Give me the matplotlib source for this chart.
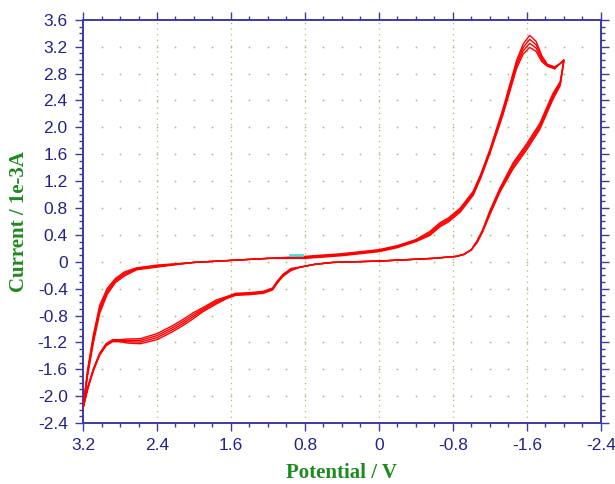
"""Voltamograma cíclico (CV) – recriação do gráfico em matplotlib."""

import matplotlib

matplotlib.use("Agg")
import matplotlib.pyplot as plt  # noqa: E402
import numpy as np  # noqa: E402
from matplotlib.ticker import MultipleLocator  # noqa: E402

# --- dados (potencial em V, corrente em mA) ---
# ramo de ida: do vértice em 3.2 V até o vértice em -2.0 V
fwd_potential = [3.20, 3.15, 3.09, 3.02, 2.94, 2.85, 2.75, 2.62, 2.40, 2.00,
                 1.60, 1.20, 0.80, 0.40, 0.00, -0.20, -0.40, -0.55, -0.66,
                 -0.75, -0.88, -1.02, -1.10, -1.20, -1.34, -1.49, -1.56,
                 -1.63, -1.70, -1.76, -1.82, -1.90, -1.96, -2.00]
fwd_current = [-2.18, -1.60, -1.10, -0.65, -0.40, -0.25, -0.15, -0.09, -0.05,
               -0.01, 0.02, 0.05, 0.08, 0.12, 0.18, 0.24, 0.33, 0.45, 0.58,
               0.65, 0.80, 1.05, 1.30, 1.67, 2.27, 3.00, 3.24, 3.37, 3.28,
               3.07, 2.94, 2.90, 2.95, 3.00]
fwd_spread = [0.00, 0.03, 0.04, 0.04, 0.03, 0.02, 0.02, 0.01, 0.01, 0.00,
              0.00, 0.00, 0.01, 0.01, 0.01, 0.01, 0.01, 0.02, 0.02, 0.02,
              0.02, 0.02, 0.02, 0.02, 0.03, 0.04, 0.05, 0.06, 0.05, 0.03,
              0.01, 0.01, 0.00, 0.00]

# ramo de volta: do vértice em -2.0 V de volta para 3.2 V
rev_potential = [-2.00, -1.98, -1.96, -1.88, -1.74, -1.60, -1.45, -1.31, -1.20,
                 -1.12, -1.06, -1.00, -0.92, -0.84, -0.58, 0.00, 0.50, 0.70,
                 0.85, 0.95, 1.04, 1.10, 1.15, 1.25, 1.40, 1.55, 1.65, 1.76,
                 1.90, 2.01, 2.12, 2.23, 2.40, 2.58, 2.72, 2.80, 2.88, 2.95,
                 3.02, 3.09, 3.15, 3.20]
rev_current = [3.00, 2.80, 2.62, 2.41, 1.97, 1.67, 1.38, 1.04, 0.70, 0.44,
               0.28, 0.18, 0.11, 0.08, 0.05, 0.01, -0.01, -0.04, -0.08, -0.13,
               -0.22, -0.32, -0.42, -0.47, -0.49, -0.50, -0.55, -0.63, -0.74,
               -0.85, -0.95, -1.04, -1.16, -1.22, -1.21, -1.19, -1.19, -1.25,
               -1.39, -1.63, -1.90, -2.18]
rev_spread = [0.00, 0.01, 0.02, 0.03, 0.03, 0.03, 0.03, 0.02, 0.02, 0.01,
              0.01, 0.00, 0.00, 0.00, 0.00, 0.00, 0.00, 0.00, 0.00, 0.01,
              0.01, 0.01, 0.01, 0.01, 0.01, 0.01, 0.01, 0.02, 0.02, 0.03,
              0.03, 0.03, 0.03, 0.025, 0.02, 0.01, 0.01, 0.01, 0.01, 0.01,
              0.01, 0.00]

cycles = [0, 1, 2, 3]  # 4 varreduras sobrepostas

# marcador de início da varredura (trecho ciano)
start_potential = [0.96, 0.83]
start_current = [0.10, 0.10]

_AZUL = "#3a3aa8"
_AZUL_TXT = "#23238a"
_VERDE = "#1f8a1f"
_GRADE = "#a2c463"

fig = plt.figure(figsize=(6.15, 4.84), dpi=100)
ax = fig.add_axes((0.135, 0.126, 0.842, 0.833))

# grade: linhas pontilhadas verticais nos ticks maiores + pontos nas interseções
for xv in np.arange(2.4, -2.0, -0.8):
    ax.axvline(xv, color=_GRADE, lw=0.9, ls=(0, (1, 3.5)), zorder=0)
gx, gy = np.meshgrid(np.arange(3.0, -2.35, -0.2), np.arange(3.2, -2.35, -0.4))
ax.scatter(gx.ravel(), gy.ravel(), s=1.6, color=_GRADE, lw=0, zorder=0)

# as 4 varreduras (ida + volta em um só traço)
fp, fc, fs = map(np.asarray, (fwd_potential, fwd_current, fwd_spread))
rp, rc, rs = map(np.asarray, (rev_potential, rev_current, rev_spread))
for k in cycles:
    x = np.concatenate([fp, rp[1:]])
    y = np.concatenate([fc - k * fs, (rc + k * rs)[1:]])
    ax.plot(x, y, color="red", lw=1.0, zorder=3)
ax.plot(start_potential, start_current, color="#40e0e0", lw=2.0, zorder=4)

ax.set_xlim(3.2, -2.4)
ax.set_ylim(-2.4, 3.6)
ax.xaxis.set_minor_locator(MultipleLocator(0.2))
ax.yaxis.set_minor_locator(MultipleLocator(0.1))
xt = np.arange(3.2, -2.41, -0.8)
yt = np.arange(-2.4, 3.61, 0.4)
ax.set_xticks(xt)
ax.set_xticklabels([f"{v:.1f}" if abs(v) > 1e-9 else "0" for v in xt])
ax.set_yticks(yt)
ax.set_yticklabels([f"{v:.1f}" if abs(v) > 1e-9 else "0" for v in yt])

for s in ax.spines.values():
    s.set_color(_AZUL)
    s.set_linewidth(1.4)
ax.tick_params(which="both", direction="out", color=_AZUL, top=True, right=True,
               labelcolor=_AZUL_TXT, labelsize=12.5, width=1.0)
ax.tick_params(which="major", length=6, pad=5)
ax.tick_params(which="minor", length=3)
for lab in ax.get_xticklabels() + ax.get_yticklabels():
    lab.set_family(["Liberation Sans", "DejaVu Sans"])

fonte_rot = dict(family=["Liberation Serif", "DejaVu Serif"], fontsize=15,
                 fontweight="bold", color=_VERDE)
ax.set_xlabel("Potential / V", labelpad=7, **fonte_rot)
ax.set_ylabel("Current / 1e-3A", labelpad=6, **fonte_rot)

fig.savefig("out.png", dpi=100)
plt.close(fig)
